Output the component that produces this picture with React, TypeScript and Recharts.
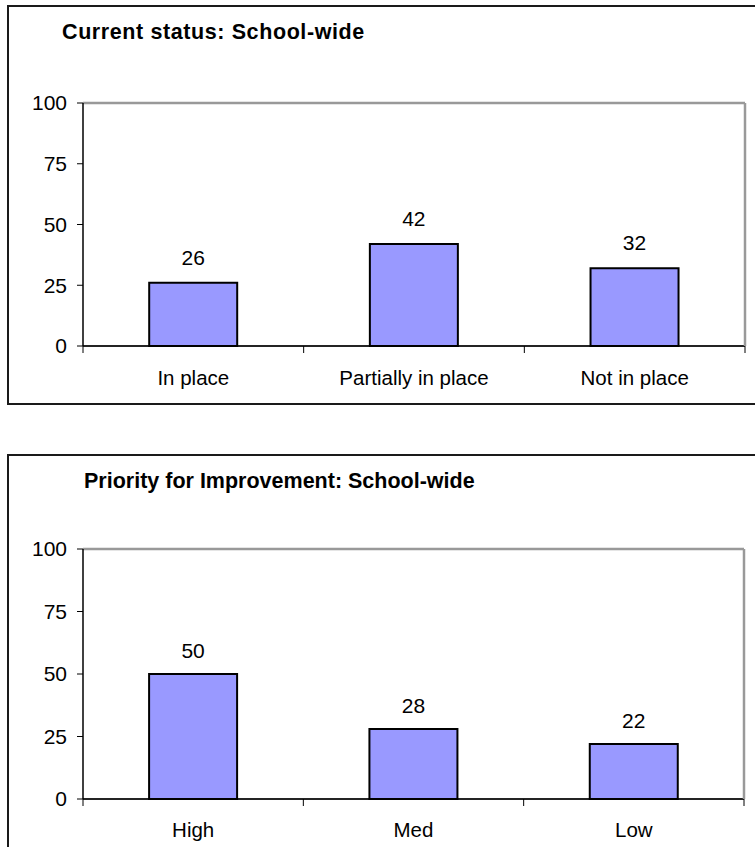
import React from "react";
import {
  BarChart,
  Bar,
  XAxis,
  YAxis,
  CartesianGrid,
  LabelList,
  ReferenceLine,
} from "recharts";

const statusCategories = ["In place", "Partially in place", "Not in place"];
const statusValues = [26, 42, 32];

const priorityCategories = ["High", "Med", "Low"];
const priorityValues = [50, 28, 22];

const yTicks = [0, 25, 50, 75, 100];

const FONT = '"Liberation Sans", Arial, sans-serif';
const CHART_W = 755;

interface PanelProps {
  title: string;
  titleLeft: number;
  titleTop: number;
  titleSpacing: number;
  frameTop: number;
  frameHeight: number;
  chartHeight: number;
  marginTop: number;
  marginRight: number;
  xAxisHeight: number;
  labelDy: number;
  labelOffset: number;
  categories: string[];
  values: number[];
}

function Panel(p: PanelProps) {
  const data = p.categories.map((name, i) => ({ name, value: p.values[i] }));
  const plotLeft = 83;
  const plotWidth = CHART_W - plotLeft - p.marginRight - 1;
  const band = plotWidth / p.categories.length;

  // category label in the middle, tick marks on the band edges
  const renderTick = (props: any) => {
    const { x, y, payload, index } = props;
    const last = index === p.categories.length - 1;
    return (
      <g>
        <line x1={x - band / 2} x2={x - band / 2} y1={y} y2={y + 7} stroke="#000" />
        {last && <line x1={x + band / 2} x2={x + band / 2} y1={y} y2={y + 7} stroke="#000" />}
        <text
          x={x}
          y={y + p.labelDy}
          dy="0.35em"
          textAnchor="middle"
          fill="#000"
          fontSize={20.5}
          fontFamily={FONT}
        >
          {payload.value}
        </text>
      </g>
    );
  };

  return (
    <>
      <div
        style={{
          position: "absolute",
          left: 7,
          top: p.frameTop,
          width: 780,
          height: p.frameHeight,
          border: "2px solid #1a1a1a",
          boxSizing: "border-box",
        }}
      />
      <div
        style={{
          position: "absolute",
          left: p.titleLeft,
          top: p.titleTop,
          fontFamily: FONT,
          fontWeight: "bold",
          fontSize: 21.5,
          lineHeight: "24px",
          letterSpacing: p.titleSpacing,
          whiteSpace: "nowrap",
          color: "#000",
        }}
      >
        {p.title}
      </div>
      <div style={{ position: "absolute", left: 0, top: p.frameTop }}>
        <BarChart
          width={CHART_W}
          height={p.chartHeight}
          data={data}
          margin={{ top: p.marginTop, right: p.marginRight, left: 0, bottom: 0 }}
          barCategoryGap="30%"
        >
          <CartesianGrid vertical={false} stroke="#222" strokeWidth={1} />
          <XAxis
            dataKey="name"
            interval={0}
            height={p.xAxisHeight}
            tickLine={false}
            tickSize={0}
            tickMargin={0}
            axisLine={{ stroke: "#000", strokeWidth: 1.5 }}
            tick={renderTick}
          />
          <YAxis
            yAxisId="left"
            width={plotLeft}
            domain={[0, 100]}
            ticks={yTicks}
            interval={0}
            tickSize={6}
            tickMargin={10}
            axisLine={{ stroke: "#000", strokeWidth: 1.5 }}
            tickLine={{ stroke: "#000" }}
            tick={{ fill: "#000", fontSize: 21, fontFamily: FONT }}
          />
          <YAxis
            yAxisId="right"
            orientation="right"
            width={1}
            domain={[0, 100]}
            tick={false}
            tickLine={false}
            axisLine={{ stroke: "#999", strokeWidth: 2.5 }}
          />
          <ReferenceLine yAxisId="left" y={100} stroke="#999" strokeWidth={2.5} />
          <Bar
            yAxisId="left"
            dataKey="value"
            fill="#9999FF"
            stroke="#000"
            strokeWidth={2}
            isAnimationActive={false}
          >
            <LabelList
              dataKey="value"
              position="top"
              offset={p.labelOffset}
              fill="#000"
              fontSize={21}
              fontFamily={FONT}
            />
          </Bar>
        </BarChart>
      </div>
    </>
  );
}

export default function App() {
  return (
    <div
      style={{
        position: "absolute",
        left: 0,
        top: 0,
        width: 755,
        height: 847,
        overflow: "hidden",
        background: "#fff",
      }}
    >
      <Panel
        title="Current status: School-wide"
        titleLeft={62}
        titleTop={20}
        titleSpacing={0.6}
        frameTop={5}
        frameHeight={400}
        chartHeight={399}
        marginTop={98}
        marginRight={9}
        xAxisHeight={58}
        labelDy={32}
        labelOffset={18}
        categories={statusCategories}
        values={statusValues}
      />
      <Panel
        title="Priority for Improvement: School-wide"
        titleLeft={84}
        titleTop={469}
        titleSpacing={0}
        frameTop={454}
        frameHeight={420}
        chartHeight={393}
        marginTop={95}
        marginRight={10}
        xAxisHeight={48}
        labelDy={31}
        labelOffset={16}
        categories={priorityCategories}
        values={priorityValues}
      />
    </div>
  );
}
